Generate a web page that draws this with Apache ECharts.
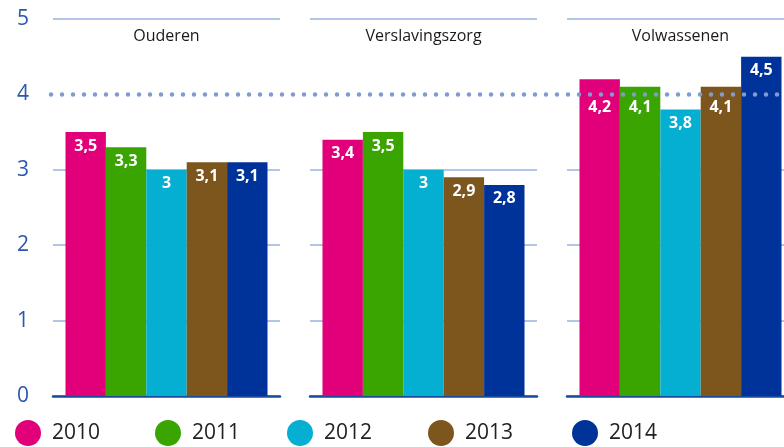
<!DOCTYPE html>
<html>
<head>
<meta charset="utf-8">
<script src="https://cdn.jsdelivr.net/npm/echarts@6/dist/echarts.min.js"></script>
<style>
html,body{margin:0;padding:0;background:#fff;}
#chart{width:784px;height:447px;}
</style>
</head>
<body>
<div id="chart"></div>
<script>
// data
var categories = ['Ouderen', 'Verslavingszorg', 'Volwassenen'];
var years = ['2010', '2011', '2012', '2013', '2014'];
var v2010 = [3.5, 3.4, 4.2];
var v2011 = [3.3, 3.5, 4.1];
var v2012 = [3.0, 3.0, 3.8];
var v2013 = [3.1, 2.9, 4.1];
var v2014 = [3.1, 2.8, 4.5];
var normLine = 4;
var yMin = 0, yMax = 5, yStep = 1;

var values = [v2010, v2011, v2012, v2013, v2014];
var colors = ['#e2007a', '#3aa500', '#05afd1', '#7d561e', '#003399'];
var gridCol = '#9db2e0';
var font = 'Open Sans';

var chart = echarts.init(document.getElementById('chart'));

var panelLeft = [53, 310, 567];
var plotTop = 19, plotH = 377;
var pxPerUnit = plotH / (yMax - yMin);
var grids = [], xAxes = [], yAxes = [], series = [];

// push a label below the dotted line when it would sit on it
function labelDist(v) {
    if (v > normLine && v - normLine < 0.35) return (v - normLine) * pxPerUnit + 5;
    return 6;
}

categories.forEach(function (cat, g) {
    grids.push({left: panelLeft[g], width: 227, top: plotTop, height: plotH, outerBoundsMode: 'none'});
    // bottom axis: baseline
    xAxes.push({
        type: 'category', gridIndex: g, data: [cat], position: 'bottom',
        axisLine: {show: true, lineStyle: {color: '#1b4b9f', width: 2.5}},
        axisTick: {show: false}, axisLabel: {show: false}
    });
    // top axis: panel title
    xAxes.push({
        type: 'category', gridIndex: g, data: [cat], position: 'top',
        axisLine: {show: false}, axisTick: {show: false},
        axisLabel: {inside: true, margin: 9, color: '#1a1a1a', fontSize: 16, fontFamily: font}
    });
    yAxes.push({
        type: 'value', gridIndex: g, min: yMin, max: yMax, interval: yStep,
        axisLine: {show: false}, axisTick: {show: false},
        axisLabel: {show: g === 0, margin: 30, align: 'center', color: '#2a58b0', fontSize: 21, fontFamily: font},
        splitLine: {show: true, lineStyle: {color: [gridCol, gridCol, gridCol, gridCol, 'rgba(0,0,0,0)', gridCol], width: 1.5}}
    });
    years.forEach(function (yr, i) {
        var v = values[i][g];
        series.push({
            type: 'bar', name: yr, xAxisIndex: g * 2, yAxisIndex: g,
            data: [v],
            barGap: '0%', barCategoryGap: '11%',
            itemStyle: {color: colors[i]},
            label: {
                show: true, position: 'insideTop', distance: labelDist(v),
                color: '#fff', fontSize: 16, fontWeight: 'bold', fontFamily: font,
                formatter: function (p) { return String(p.value).replace('.', ','); }
            }
        });
    });
});

// full-width grid for the dotted reference line
grids.push({left: 51, right: 0, top: plotTop, height: plotH, outerBoundsMode: 'none'});
xAxes.push({type: 'value', gridIndex: 3, min: 0, max: 1, show: false});
yAxes.push({type: 'value', gridIndex: 3, min: yMin, max: yMax, show: false});
series.push({
    type: 'line', xAxisIndex: 6, yAxisIndex: 3, data: [], silent: true, z: 5,
    markLine: {
        silent: true, symbol: 'none', label: {show: false}, animation: false,
        lineStyle: {color: '#7f9bd0', width: 4.5, type: [0, 11], cap: 'round', opacity: 1},
        data: [{yAxis: normLine}]
    }
});

var legendLeft = [15, 155, 287, 428, 572];
var legends = years.map(function (yr, i) {
    return {
        data: [{name: yr, icon: 'circle'}], left: legendLeft[i], top: 420,
        itemWidth: 26, itemHeight: 26, padding: 0,
        textStyle: {fontSize: 21, color: '#222', fontFamily: font, padding: [0, 0, 0, 6]}
    };
});

var option = {
    animation: false,
    grid: grids,
    xAxis: xAxes,
    yAxis: yAxes,
    legend: legends,
    series: series
};
chart.setOption(option);
</script>
</body>
</html>
